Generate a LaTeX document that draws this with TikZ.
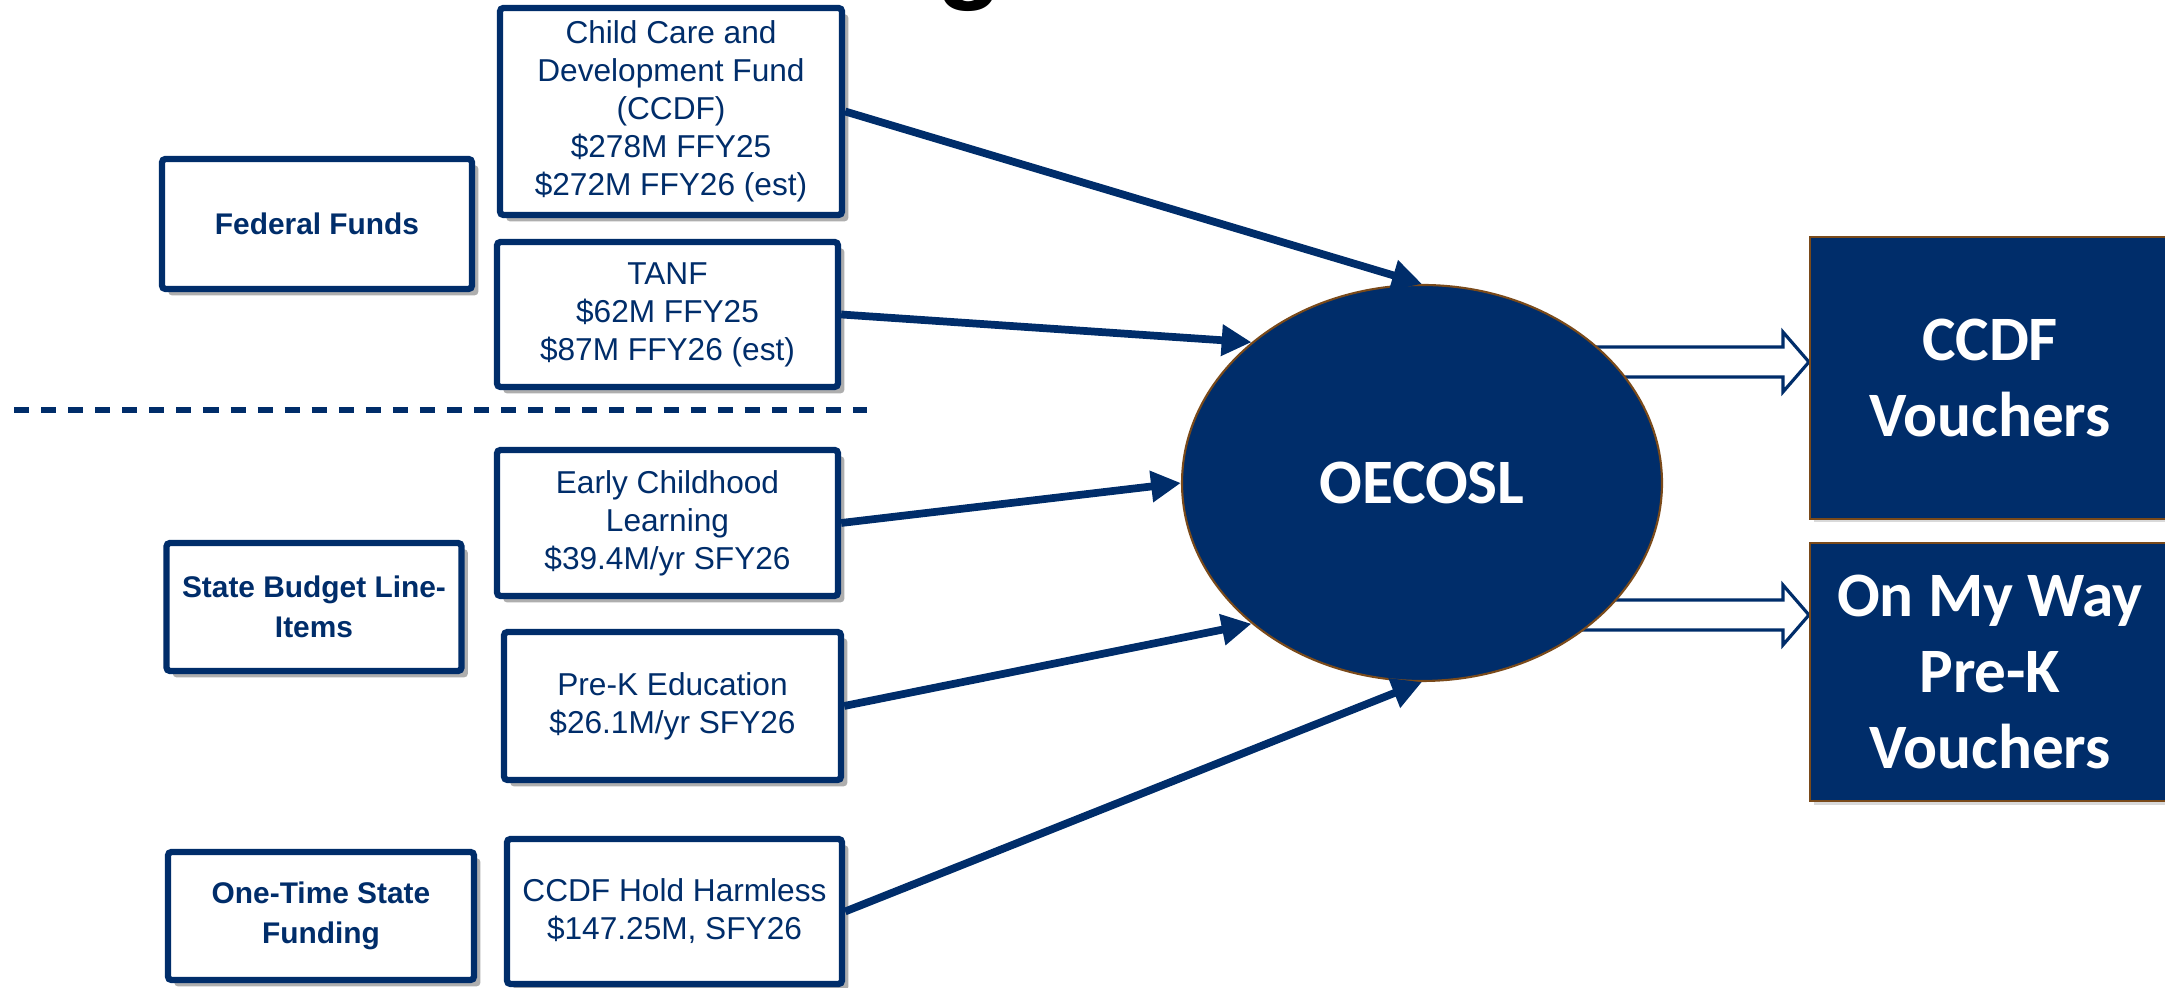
\documentclass[tikz,border=0pt]{standalone}
\usepackage{fontspec}
\setmainfont{Liberation Sans}
\newfontfamily\calibri{Carlito}
\usetikzlibrary{arrows.meta,shapes.geometric,shadows,calc,backgrounds}
\definecolor{navy}{HTML}{002D6A}
\definecolor{rim}{HTML}{7A4A1A}

\begin{document}
\begin{tikzpicture}
                        \tikzstyle{fund}=[draw=navy, line width=1.8pt, fill=white, text=navy, align=center, inner sep=2pt, rounded corners=1pt, font=\fontsize{9}{10.8}\selectfont, drop shadow={shadow xshift=1.8pt, shadow yshift=-1.8pt, fill=black!70, opacity=.45}]
                        \tikzstyle{group}=[fund, font=\fontsize{8.5}{11.2}\selectfont\bfseries]
                        \tikzstyle{target}=[draw=rim, line width=.6pt, fill=navy, text=white, align=center, inner sep=0pt, font=\calibri\bfseries\fontsize{18}{21.5}\selectfont]
                        \tikzstyle{feed}=[draw=navy, line width=2.2pt, -{Triangle[length=8.5pt,width=8.5pt]}]
                        \tikzstyle{hollow}=[draw=navy, line width=.9pt, fill=white, line join=miter]
                        \clip (0,0) rectangle (21.65,9.88);
                        \node[anchor=base] (title) at (9.70,9.99) {\bfseries\fontsize{31}{31}\selectfont g};
                        \node[group, minimum width=3.10cm, minimum height=1.30cm] (fed) at (3.17,7.64) {Federal Funds};
                        \node[group, minimum width=2.95cm, minimum height=1.28cm] (state) at (3.14,3.81) {State Budget Line-\\Items};
                        \node[group, minimum width=3.06cm, minimum height=1.28cm] (onetime) at (3.21,0.72) {One-Time State\\Funding};
                        \node[fund, minimum width=3.42cm, minimum height=2.07cm] (ccdf) at (6.71,8.765) {Child Care and\\Development Fund\\(CCDF)\\\$278M FFY25\\\$272M FFY26 (est)};
                        \node[fund, minimum width=3.41cm, minimum height=1.45cm] (tanf) at (6.675,6.735) {TANF\\\$62M FFY25\\\$87M FFY26 (est)};
                        \node[fund, minimum width=3.41cm, minimum height=1.46cm] (ecl) at (6.675,4.65) {Early Childhood\\Learning\\\$39.4M/yr SFY26};
                        \node[fund, minimum width=3.37cm, minimum height=1.48cm] (prek) at (6.725,2.82) {Pre-K Education\\\$26.1M/yr SFY26};
                        \node[fund, minimum width=3.35cm, minimum height=1.45cm] (hold) at (6.745,0.765) {CCDF Hold Harmless\\\$147.25M, SFY26};
                        \draw[navy, line width=1.5pt, dash pattern=on 4.3pt off 3.4pt] (0.14,5.78) -- (8.67,5.78);
                        \node[target, ellipse, minimum width=4.8cm, minimum height=3.96cm] (oecosl) at (14.22,5.05) {OECOSL};
                        \node[target, minimum width=3.6cm, minimum height=2.82cm, drop shadow={shadow xshift=1pt, shadow yshift=-1pt, opacity=.3}] (ccdfv) at (19.90,6.10) {CCDF\\Vouchers};
                        \node[target, minimum width=3.6cm, minimum height=2.58cm, drop shadow={shadow xshift=1pt, shadow yshift=-1pt, opacity=.3}] (omw) at (19.90,3.16) {On My Way\\Pre-K\\Vouchers};
                        \coordinate (tip1) at ($(ccdfv.west)+(0,0.16)$);
                        \coordinate (tip2) at ($(omw.west)+(0,0.57)$);
                        \begin{scope}[on background layer]
                            \draw[hollow] (tip1) -- ($(tip1)+(-0.26,0.30)$) -- ($(tip1)+(-0.26,0.15)$) -- ($(oecosl.center |- tip1)+(0,0.15)$) -- ($(oecosl.center |- tip1)+(0,-0.15)$) -- ($(tip1)+(-0.26,-0.15)$) -- ($(tip1)+(-0.26,-0.30)$) -- cycle;
                            \draw[hollow] (tip2) -- ($(tip2)+(-0.26,0.30)$) -- ($(tip2)+(-0.26,0.15)$) -- ($(oecosl.center |- tip2)+(0,0.15)$) -- ($(oecosl.center |- tip2)+(0,-0.15)$) -- ($(tip2)+(-0.26,-0.15)$) -- ($(tip2)+(-0.26,-0.30)$) -- cycle;
                        \end{scope}
                        \draw[feed] (ccdf.east) -- (oecosl.north);
                        \draw[feed] (tanf.east) -- (oecosl.north west);
                        \draw[feed] (ecl.east) -- (oecosl.west);
                        \draw[feed] (prek.east) -- (oecosl.south west);
                        \draw[feed] (hold.east) -- (oecosl.south);
                    \end{tikzpicture}
\end{document}
